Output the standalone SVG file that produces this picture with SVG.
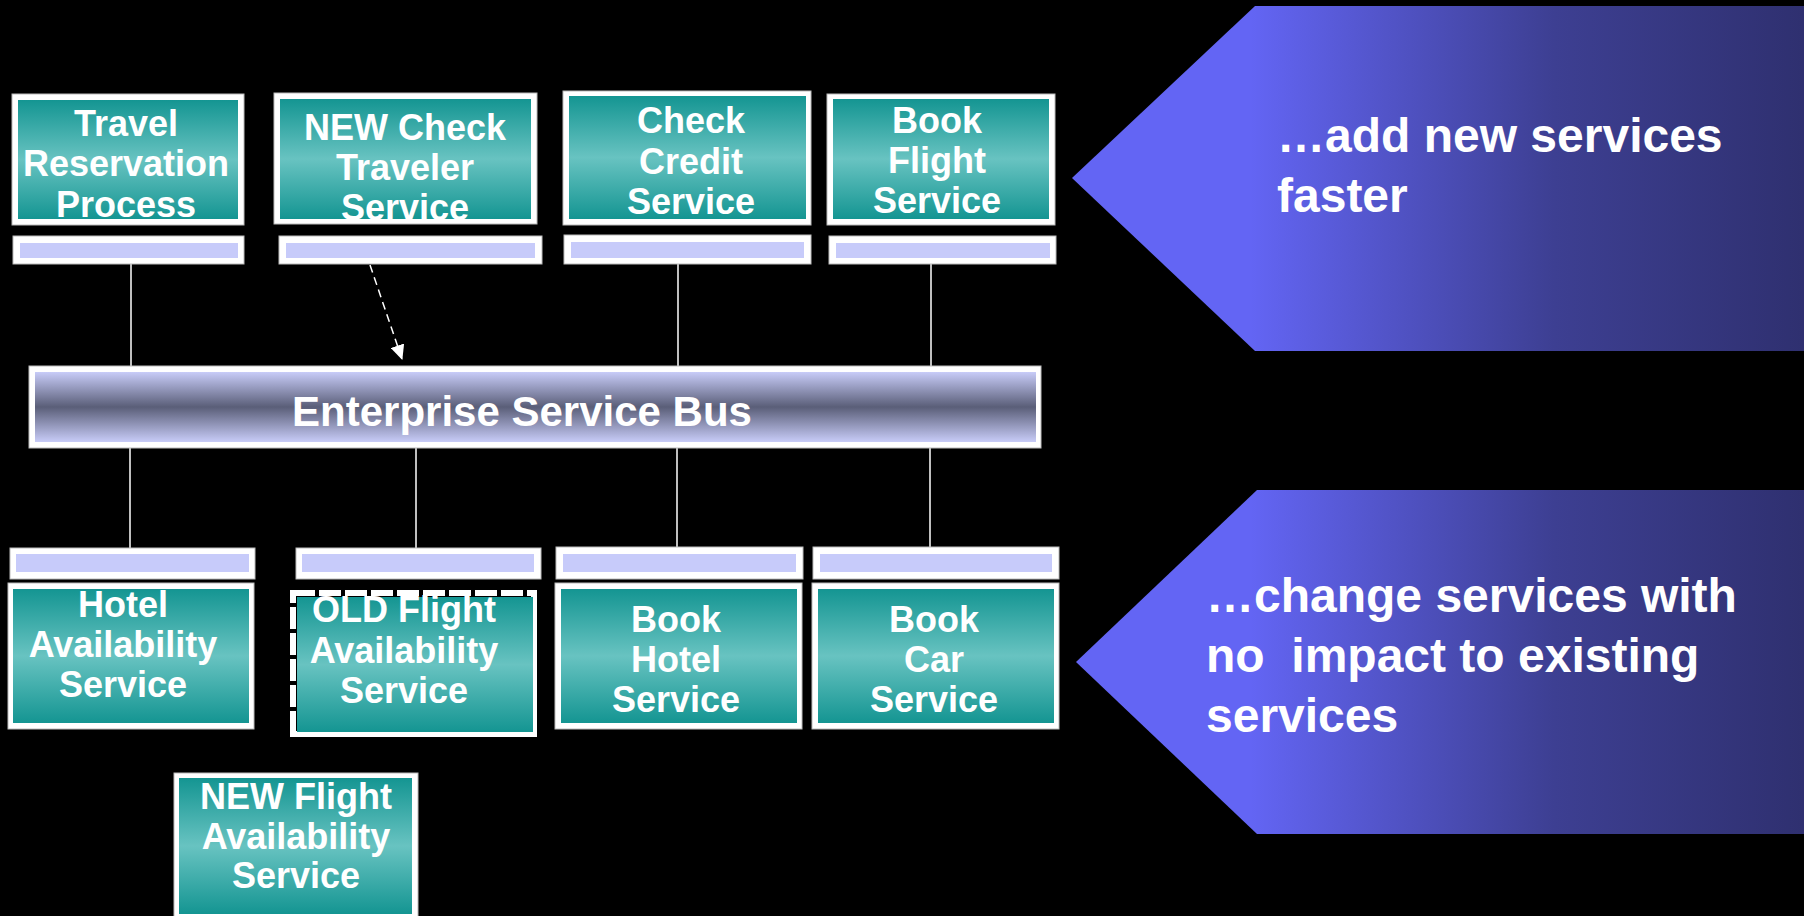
<svg xmlns="http://www.w3.org/2000/svg" width="1804" height="916" viewBox="0 0 1804 916">
<defs>
<linearGradient id="teal" x1="0" y1="0" x2="0" y2="1">
<stop offset="0" stop-color="#149592"/><stop offset="0.5" stop-color="#68C3C1"/><stop offset="1" stop-color="#149592"/>
</linearGradient>
<linearGradient id="bus" x1="0" y1="0" x2="0" y2="1">
<stop offset="0" stop-color="#C8CCF8"/><stop offset="0.5" stop-color="#5A5E78"/><stop offset="1" stop-color="#C8CCF8"/>
</linearGradient>
<linearGradient id="callout" gradientUnits="userSpaceOnUse" x1="1250" y1="0" x2="1804" y2="0">
<stop offset="0" stop-color="#6365F4"/><stop offset="0.55" stop-color="#3D3F92"/><stop offset="1" stop-color="#2F3070"/>
</linearGradient>
<clipPath id="clipNew"><rect x="280" y="99" width="251" height="120"/></clipPath>
<marker id="arr" markerWidth="16" markerHeight="14" refX="14" refY="7" orient="auto" markerUnits="userSpaceOnUse">
<path d="M0,0 L15,7 L0,14 z" fill="#FFFFFF"/>
</marker>
<style>
.frame{fill:#FFFFFF;stroke:#BBBBBB;stroke-width:1}
.box{fill:url(#teal)}
.bar{fill:#C7CBFA}
.lbl{font-family:"Liberation Sans",Arial,sans-serif;font-weight:bold;font-size:36px;fill:#FFFFFF;text-anchor:middle}
.big{font-family:"Liberation Sans",Arial,sans-serif;font-weight:bold;font-size:48px;fill:#FFFFFF;white-space:pre}
.conn{stroke:#FFFFFF;stroke-width:1.5;fill:none}
</style>
</defs>
<rect x="0" y="0" width="1804" height="916" fill="#000000"/>

<g id="connectors">
<line class="conn" x1="131" y1="264" x2="131" y2="366"/>
<line class="conn" x1="678" y1="264" x2="678" y2="366"/>
<line class="conn" x1="931" y1="264" x2="931" y2="366"/>
<line class="conn" x1="370" y1="265" x2="402" y2="359" stroke-width="2" stroke-dasharray="8 5" marker-end="url(#arr)"/>
<line class="conn" x1="130" y1="448" x2="130" y2="548"/>
<line class="conn" x1="416" y1="448" x2="416" y2="548"/>
<line class="conn" x1="677" y1="448" x2="677" y2="548"/>
<line class="conn" x1="930" y1="448" x2="930" y2="548"/>
</g>

<g id="travel-reservation">
<rect class="frame" x="12" y="94" width="232" height="131"/>
<rect class="box" x="18" y="100" width="220" height="119"/>
<text class="lbl" x="126" y="136">Travel</text>
<text class="lbl" x="126" y="176">Reservation</text>
<text class="lbl" x="126" y="217">Process</text>
<rect class="frame" x="13" y="236" width="231" height="28"/>
<rect class="bar" x="20" y="243" width="218" height="15"/>
</g>

<g id="new-check-traveler">
<rect class="frame" x="274" y="93" width="263" height="131"/>
<rect class="box" x="280" y="99" width="251" height="120"/>
<g clip-path="url(#clipNew)">
<text class="lbl" x="405" y="140">NEW Check</text>
<text class="lbl" x="405" y="180">Traveler</text>
<text class="lbl" x="405" y="220">Service</text>
</g>
<rect class="frame" x="279" y="236" width="263" height="28"/>
<rect class="bar" x="286" y="243" width="249" height="15"/>
</g>

<g id="check-credit">
<rect class="frame" x="563" y="91" width="248" height="134"/>
<rect class="box" x="569" y="96" width="237" height="123"/>
<text class="lbl" x="691" y="133">Check</text>
<text class="lbl" x="691" y="174">Credit</text>
<text class="lbl" x="691" y="214">Service</text>
<rect class="frame" x="564" y="235" width="247" height="29"/>
<rect class="bar" x="571" y="242" width="233" height="16"/>
</g>

<g id="book-flight">
<rect class="frame" x="827" y="94" width="228" height="131"/>
<rect class="box" x="833" y="99" width="216" height="120"/>
<text class="lbl" x="937" y="133">Book</text>
<text class="lbl" x="937" y="173">Flight</text>
<text class="lbl" x="937" y="213">Service</text>
<rect class="frame" x="829" y="236" width="227" height="28"/>
<rect class="bar" x="836" y="243" width="214" height="15"/>
</g>

<g id="enterprise-service-bus">
<rect class="frame" x="29" y="366" width="1012" height="82"/>
<rect x="35" y="372" width="1001" height="70" fill="url(#bus)"/>
<text x="522" y="426" font-family="Liberation Sans, Arial, sans-serif" font-weight="bold" font-size="42" fill="#FFFFFF" text-anchor="middle">Enterprise Service Bus</text>
</g>

<g id="hotel-availability">
<rect class="frame" x="10" y="548" width="245" height="31"/>
<rect class="bar" x="16" y="554" width="233" height="18"/>
<rect class="frame" x="8" y="583" width="246" height="146"/>
<rect class="box" x="13" y="589" width="236" height="134"/>
<text class="lbl" x="123" y="617">Hotel</text>
<text class="lbl" x="123" y="657">Availability</text>
<text class="lbl" x="123" y="697">Service</text>
</g>

<g id="old-flight-availability">
<rect class="frame" x="296" y="548" width="245" height="31"/>
<rect class="bar" x="302" y="554" width="232" height="18"/>
<rect x="293" y="593" width="241" height="141" fill="none" stroke="#FFFFFF" stroke-width="6" stroke-dasharray="22 4"/>
<line x1="534.5" y1="591" x2="534.5" y2="737" stroke="#FFFFFF" stroke-width="5"/>
<line x1="290" y1="734.5" x2="537" y2="734.5" stroke="#FFFFFF" stroke-width="5"/>
<rect class="box" x="297" y="597" width="236" height="135"/>
<text class="lbl" x="404" y="622">OLD Flight</text>
<text class="lbl" x="404" y="663">Availability</text>
<text class="lbl" x="404" y="703">Service</text>
</g>

<g id="book-hotel">
<rect class="frame" x="556" y="547" width="247" height="32"/>
<rect class="bar" x="563" y="554" width="233" height="18"/>
<rect class="frame" x="555" y="583" width="247" height="146"/>
<rect class="box" x="561" y="589" width="236" height="134"/>
<text class="lbl" x="676" y="632">Book</text>
<text class="lbl" x="676" y="672">Hotel</text>
<text class="lbl" x="676" y="712">Service</text>
</g>

<g id="book-car">
<rect class="frame" x="813" y="547" width="246" height="32"/>
<rect class="bar" x="820" y="554" width="232" height="18"/>
<rect class="frame" x="812" y="583" width="247" height="146"/>
<rect class="box" x="818" y="589" width="236" height="134"/>
<text class="lbl" x="934" y="632">Book</text>
<text class="lbl" x="934" y="672">Car</text>
<text class="lbl" x="934" y="712">Service</text>
</g>

<g id="new-flight-availability">
<rect class="frame" x="174" y="773" width="244" height="150"/>
<rect class="box" x="179" y="778" width="233" height="136"/>
<text class="lbl" x="296" y="809">NEW Flight</text>
<text class="lbl" x="296" y="849">Availability</text>
<text class="lbl" x="296" y="888">Service</text>
</g>

<g id="callout-add">
<polygon points="1072,178 1255,6 1804,6 1804,351 1255,351" fill="url(#callout)"/>
<text class="big" x="1277" y="152">…add new services</text>
<text class="big" x="1277" y="212">faster</text>
</g>

<g id="callout-change">
<polygon points="1076,662 1257,490 1804,490 1804,834 1257,834" fill="url(#callout)"/>
<text class="big" x="1206" y="612">…change services with</text>
<text class="big" x="1206" y="672">no  impact to existing</text>
<text class="big" x="1206" y="732">services</text>
</g>
</svg>
